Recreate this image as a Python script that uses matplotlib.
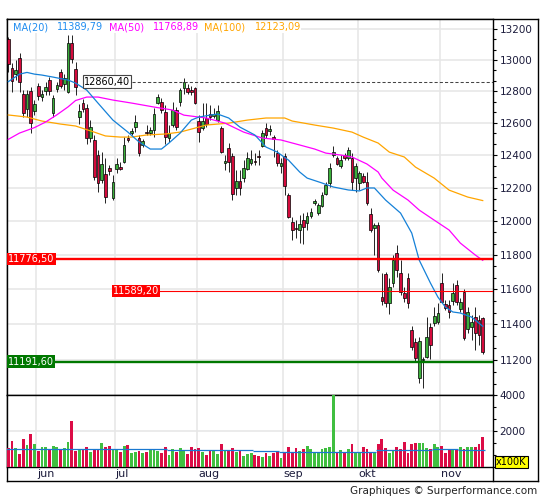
import numpy as np
import pandas as pd
import matplotlib
matplotlib.use('Agg')
import matplotlib.pyplot as plt
import matplotlib.transforms as mtransforms
from matplotlib.ticker import FixedLocator, NullFormatter, FuncFormatter
from matplotlib.patches import Rectangle
from matplotlib.lines import Line2D

plt.rcParams['font.family'] = ['DejaVu Sans']

# trading days shown (22 May -> 16 Nov, 3 Oct closed)
dates = pd.bdate_range('2018-05-22', '2018-11-16')
dates = dates[dates != pd.Timestamp('2018-10-03')]

opens = [13135, 12947, 12909, 13011, 12781, 12686, 12800, 12674, 12832, 12762,
         12800, 12870, 12661, 12813, 12922, 12845, 12794, 13109, 12940, 12636,
         12724, 12693, 12505, 12492, 12400, 12247, 12284, 12320, 12138, 12314,
         12327, 12357, 12505, 12536, 12573, 12505, 12462, 12542, 12536, 12555,
         12724, 12730, 12667, 12505, 12586, 12680, 12730, 12819, 12819, 12806,
         12819, 12611, 12567, 12630, 12655, 12642, 12617, 12567, 12351, 12443,
         12394, 12198, 12241, 12259, 12314, 12351, 12363, 12394, 12456, 12567,
         12548, 12511, 12413, 12333, 12394, 12156, 11994, 11959, 11947, 12006,
         11988, 12030, 12108, 12048, 12090, 12162, 12229, 12400, 12382, 12333,
         12400, 12382, 12382, 12259, 12229, 12272, 12235, 12042, 11959, 11977,
         11556, 11689, 11522, 11637, 11811, 11695, 11579, 11666, 11369, 11302,
         11101, 11200, 11217, 11386, 11408, 11414, 11637, 11516, 11510, 11533,
         11625, 11488, 11585, 11374, 11386, 11442, 11425, 11436]
highs = [13148, 12979, 12998, 13044, 12806, 12806, 12825, 12743, 12851, 12806,
         12857, 12889, 12775, 12857, 12940, 12909, 13161, 13161, 12985, 12718,
         12749, 12718, 12617, 12523, 12431, 12419, 12382, 12339, 12278, 12382,
         12357, 12511, 12523, 12567, 12648, 12523, 12499, 12586, 12573, 12692,
         12781, 12756, 12711, 12586, 12730, 12699, 12819, 12883, 12845, 12832,
         12825, 12648, 12724, 12724, 12711, 12692, 12711, 12580, 12400, 12474,
         12413, 12308, 12308, 12369, 12419, 12431, 12413, 12431, 12555, 12598,
         12586, 12523, 12431, 12382, 12413, 12168, 12024, 12006, 12036, 12048,
         12054, 12078, 12132, 12108, 12174, 12235, 12351, 12456, 12394, 12400,
         12413, 12449, 12413, 12351, 12302, 12290, 12296, 12078, 11988, 11994,
         11695, 11700, 11666, 11800, 11858, 11770, 11614, 11695, 11391, 11324,
         11329, 11217, 11442, 11408, 11499, 11522, 11695, 11539, 11539, 11637,
         11654, 11551, 11602, 11499, 11453, 11499, 11453, 11442]
lows = [12921, 12794, 12870, 12794, 12636, 12636, 12536, 12649, 12743, 12737,
        12775, 12775, 12636, 12794, 12819, 12806, 12787, 12979, 12775, 12592,
        12667, 12468, 12480, 12247, 12174, 12229, 12108, 12278, 12126, 12290,
        12308, 12351, 12480, 12523, 12542, 12394, 12449, 12523, 12523, 12511,
        12718, 12661, 12468, 12480, 12573, 12555, 12705, 12781, 12781, 12775,
        12718, 12480, 12555, 12573, 12617, 12630, 12604, 12413, 12308, 12296,
        12126, 12156, 12156, 12235, 12308, 12339, 12339, 12339, 12449, 12505,
        12523, 12388, 12333, 12290, 12156, 12018, 11888, 11900, 11870, 11864,
        11947, 12018, 12096, 12036, 12084, 12156, 12204, 12388, 12339, 12320,
        12369, 12369, 12186, 12174, 12186, 12229, 12096, 11935, 11800, 11700,
        11510, 11499, 11459, 11614, 11672, 11568, 11528, 11493, 11256, 11190,
        11073, 11046, 11212, 11206, 11390, 11400, 11522, 11480, 11436, 11510,
        11510, 11470, 11313, 11352, 11313, 11256, 11284, 11234]
closes = [12972, 12864, 12934, 12857, 12661, 12781, 12598, 12718, 12768, 12781,
          12825, 12800, 12756, 12838, 12832, 12883, 13109, 13005, 12825, 12674,
          12686, 12505, 12573, 12265, 12229, 12345, 12144, 12302, 12235, 12345,
          12314, 12462, 12492, 12548, 12604, 12413, 12487, 12536, 12555, 12655,
          12762, 12680, 12511, 12536, 12680, 12573, 12806, 12857, 12794, 12794,
          12724, 12542, 12611, 12592, 12636, 12655, 12674, 12419, 12363, 12357,
          12162, 12241, 12198, 12320, 12382, 12375, 12357, 12388, 12536, 12523,
          12561, 12499, 12351, 12351, 12210, 12024, 11947, 11953, 11983, 11965,
          12030, 12054, 12120, 12096, 12156, 12217, 12320, 12419, 12345, 12369,
          12382, 12431, 12235, 12333, 12290, 12235, 12108, 11947, 11977, 11712,
          11533, 11522, 11614, 11770, 11712, 11585, 11551, 11522, 11273, 11212,
          11307, 11206, 11329, 11284, 11448, 11465, 11528, 11493, 11471, 11579,
          11528, 11528, 11324, 11471, 11414, 11352, 11341, 11245]
# volume in units of 100K
volumes = [1074, 1444, 1056, 722, 1556, 1222, 1833, 1278, 889, 1111,
           1111, 944, 1167, 1111, 1000, 1056, 1389, 2556, 889, 1000,
           944, 1111, 833, 1000, 1000, 1333, 1111, 1167, 944, 944,
           833, 1167, 1222, 778, 833, 889, 778, 833, 1000, 944,
           889, 778, 1111, 667, 1000, 833, 1056, 944, 722, 1111,
           1000, 1056, 833, 667, 889, 944, 722, 1278, 944, 889,
           1056, 833, 889, 611, 722, 778, 667, 611, 572, 796,
           611, 796, 889, 481, 852, 1093, 852, 1037, 907, 1000,
           1185, 1000, 759, 852, 1000, 1037, 1130, 4200, 852, 944,
           852, 1000, 1278, 852, 852, 1130, 1000, 852, 852, 1259,
           1556, 1037, 796, 907, 1093, 1000, 1407, 796, 1278, 1315,
           1315, 1315, 1037, 1000, 1259, 1093, 1185, 759, 1000, 1000,
           944, 1130, 1000, 1093, 1130, 1093, 1259, 1685]
vol_avg_start = [0, 43, 66, 73, 99, 114, 121]
vol_avg_end = [43, 66, 73, 99, 114, 121, 128]
vol_avg_level = [980, 945, 910, 850, 930, 985, 945]

# moving averages (index, value)
ma20_idx = [0, 3, 5, 7, 9, 12, 16, 18, 21, 24, 28, 32, 35, 38, 41, 43, 46, 49, 51, 54,
            56, 59, 62, 66, 69, 72, 75, 78, 80, 84, 87, 91, 94, 96, 98, 101, 105, 108,
            110, 113, 115, 117, 119, 121, 124, 127]
ma20_val = [12860, 12908, 12919, 12908, 12902, 12889, 12870, 12851, 12806, 12724, 12617,
            12542, 12481, 12437, 12437, 12474, 12536, 12617, 12636, 12648, 12655, 12630,
            12573, 12524, 12449, 12418, 12369, 12296, 12259, 12229, 12205, 12187, 12181,
            12199, 12199, 12126, 12048, 11929, 11770, 11637, 11556, 11499, 11471, 11465,
            11442, 11390]
ma50_idx = [0, 3, 7, 10, 13, 16, 18, 21, 24, 28, 33, 39, 44, 47, 53, 58, 63, 68, 73, 78,
            82, 85, 89, 92, 96, 99, 100, 103, 107, 110, 114, 118, 121, 125, 127]
ma50_val = [12497, 12536, 12570, 12605, 12650, 12700, 12740, 12762, 12762, 12743, 12724,
            12699, 12680, 12648, 12630, 12598, 12542, 12505, 12493, 12462, 12437, 12412,
            12400, 12388, 12345, 12296, 12259, 12186, 12126, 12066, 12006, 11947, 11870,
            11800, 11769]
ma100_idx = [0, 5, 9, 14, 18, 23, 26, 30, 33, 37, 42, 46, 50, 53, 59, 64, 69, 74, 76, 82,
             87, 92, 95, 99, 102, 106, 109, 114, 118, 123, 127]
ma100_val = [12649, 12636, 12611, 12592, 12580, 12542, 12518, 12511, 12511, 12524, 12530,
             12542, 12567, 12586, 12598, 12617, 12630, 12630, 12611, 12586, 12567, 12542,
             12511, 12474, 12418, 12388, 12326, 12259, 12186, 12144, 12123]

month_names = ['jun', 'jul', 'aug', 'sep', 'okt', 'nov']

RED = '#d40a3c'
GREEN = '#3aaf3a'
VRED = '#dc0c46'
VGREEN = '#40bf40'
TXT = '#1c1c3c'
GRID = '#e6e6e6'

W, H = 545, 500
fig = plt.figure(figsize=(W / 100, H / 100), dpi=100)

def box(x0, y0, x1, y1):
    return [x0 / W, 1 - y1 / H, (x1 - x0) / W, (y1 - y0) / H]

frame = fig.add_axes(box(7, 19, 538, 481), zorder=0)
frame.set_xticks([])
frame.set_yticks([])
for s in frame.spines.values():
    s.set_linewidth(1.0)
ax = fig.add_axes(box(7, 19, 493, 395), zorder=2)
axv = fig.add_axes(box(7, 395, 493, 467), zorder=2, sharex=ax)
fig.add_artist(Line2D([493 / W, 493 / W], [1 - 481 / H, 1 - 467 / H], color='black', lw=1.0))

o = np.array(opens, float)
h = np.array(highs, float)
l = np.array(lows, float)
c = np.array(closes, float)
x = np.arange(len(dates))
up = c >= o

month_starts = [i for i in range(1, len(dates)) if dates[i].month != dates[i - 1].month]

# ---- price panel
ax.set_yscale('log')
ax.set_ylim(11008, 13266)
ax.set_xlim(-0.35, 129.75)
for m in month_starts:
    ax.axvline(m - 0.5, color=GRID, lw=1.1, zorder=0.5)
    axv.axvline(m - 0.5, color=GRID, lw=1.1, zorder=0.5)
major = list(range(11200, 13201, 200))
for v in major:
    ax.axhline(v, color=GRID, lw=1.1, zorder=0.5)

ax.vlines(x, l, h, color='black', lw=0.6, zorder=3)
ax.bar(x, np.maximum(np.abs(c - o), 1.5), bottom=np.minimum(o, c), width=0.72,
       color=np.where(up, GREEN, RED), edgecolor='black', linewidth=0.5, zorder=4)

ax.plot(ma100_idx, ma100_val, color='#ffa500', lw=0.9, zorder=5)
ax.plot(ma50_idx, ma50_val, color='#ff00ff', lw=0.9, zorder=5)
ax.plot(ma20_idx, ma20_val, color='#1581d8', lw=0.9, zorder=5)

ax.yaxis.tick_right()
ax.yaxis.set_major_locator(FixedLocator(major))
ax.yaxis.set_major_formatter(FuncFormatter(lambda v, p: f'{v:.0f}'))
ax.yaxis.set_minor_locator(FixedLocator([11000 + k * 200 / 3 for k in range(36)]))
ax.yaxis.set_minor_formatter(NullFormatter())
ax.tick_params(axis='y', which='major', length=2.6, width=0.8, pad=2, labelsize=7.5,
               labelcolor=TXT, direction='out')
ax.tick_params(axis='y', which='minor', length=1.8, width=0.8, direction='out')
ax.tick_params(axis='x', bottom=False, labelbottom=False)
for s in ax.spines.values():
    s.set_linewidth(1.0)

# level lines
blend = mtransforms.blended_transform_factory(ax.transAxes, ax.transData)
def frac(px):
    return (px - 7) / 486

ax.axhline(11776.5, color='#ff0000', lw=1.7, zorder=6)
ax.axhline(11589.2, color='#ff0000', lw=0.8, xmin=frac(112), zorder=6)
ax.axhline(11191.6, color='#007800', lw=1.7, zorder=6)
ax.plot([frac(132), 1], [12860.4, 12860.4], transform=blend, color='#444444', lw=0.75,
        ls=(0, (3, 2)), zorder=6)

def level_label(px, val, s, fc, tc='white', ec='none'):
    ax.text(frac(px), val, s, transform=blend, ha='left', va='center', fontsize=7, color=tc,
            zorder=8, bbox=dict(boxstyle='square,pad=0.12', fc=fc, ec=ec, lw=0.8))

level_label(8, 11776.5, '11776,50', '#ff0000')
level_label(113, 11589.2, '11589,20', '#ff0000')
level_label(8, 11191.6, '11191,60', '#007800')
level_label(84, 12860.4, '12860,40', 'white', tc='black', ec='#444444')

# legend band
ax.add_patch(Rectangle((0.002, 1 - 14 / 376), frac(300), 14 / 376 - 0.002,
                       transform=ax.transAxes, fc='white', ec='none', zorder=2.5))
legend_items = [(13, 'MA(20)', '#1e8cf0'), (57, '11389,79', '#1e8cf0'),
                (109, 'MA(50)', '#ff00ff'), (153, '11768,89', '#ff00ff'),
                (204, 'MA(100)', '#ffa500'), (255, '12123,09', '#ffa500')]
for px, s, col in legend_items:
    fig.text(px / W, 1 - 27 / H, s, color=col, fontsize=7, va='center', ha='left', zorder=10)

# ---- volume panel
vcol = np.where(up, VGREEN, VRED)
axv.bar(x, volumes, width=0.75, color=vcol, linewidth=0, zorder=3)
axv.hlines(vol_avg_level, np.array(vol_avg_start) - 0.5, np.array(vol_avg_end) - 0.5,
           color='#1a78d0', lw=0.9, zorder=4)
axv.set_ylim(0, 4000)
axv.axhline(2000, color=GRID, lw=1.1, zorder=0.5)
axv.yaxis.tick_right()
axv.yaxis.set_major_locator(FixedLocator([2000, 4000]))
axv.yaxis.set_major_formatter(FuncFormatter(lambda v, p: f'{v:.0f}'))
axv.yaxis.set_minor_locator(FixedLocator([k * 2000 / 3 for k in range(7)]))
axv.tick_params(axis='y', which='major', length=2.6, width=0.8, pad=2, labelsize=7.5,
                labelcolor=TXT, direction='out')
axv.tick_params(axis='y', which='minor', length=1.8, width=0.8, direction='out')
axv.tick_params(axis='x', bottom=False, labelbottom=False)
for s in axv.spines.values():
    s.set_linewidth(1.0)

vblend = mtransforms.blended_transform_factory(axv.transData, axv.transAxes)
for m, name in zip(month_starts, month_names):
    axv.text(m - 0.25, -7 / 72, name, transform=vblend, ha='left', va='center',
             fontsize=8, color=TXT)

fig.text(496 / W, 1 - 462 / H, 'x100K', fontsize=7, color='black', ha='left', va='center',
         zorder=10, bbox=dict(boxstyle='square,pad=0.12', fc='#ffff00', ec='black', lw=0.8))
fig.text(537 / W, 1 - 491 / H, 'Graphiques \u00a9 Surperformance.com', fontsize=7.5,
         color='#222222', ha='right', va='center')

fig.savefig('out.png', dpi=100)
